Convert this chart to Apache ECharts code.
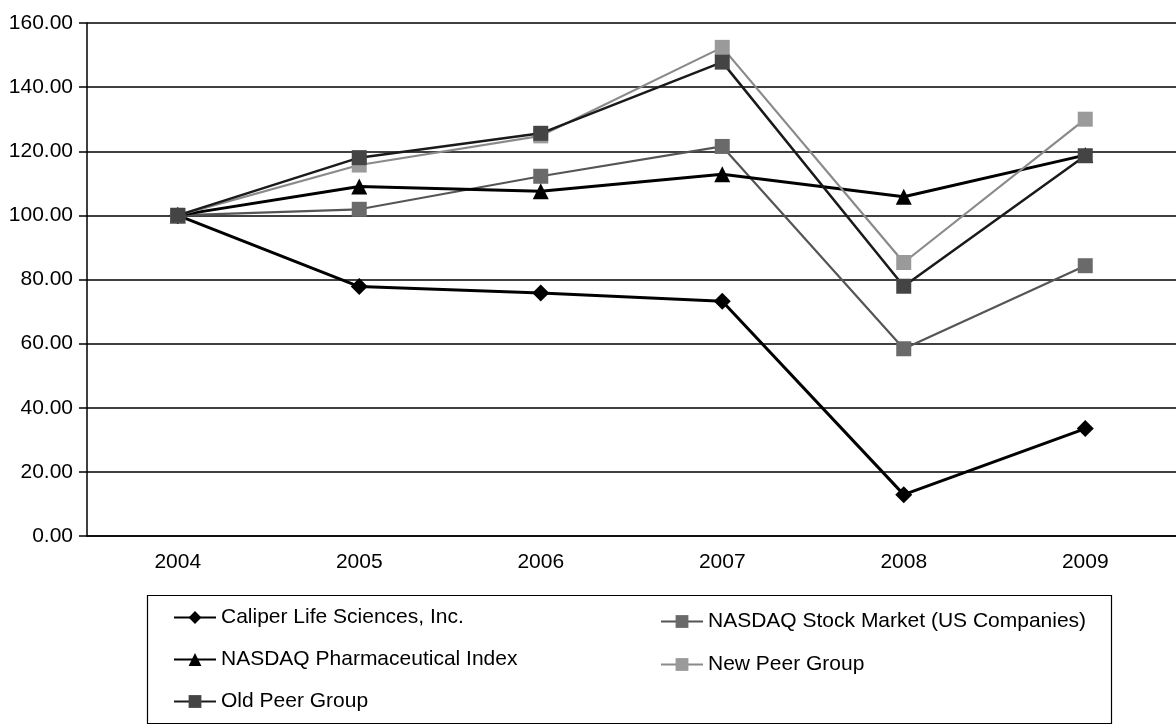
<!DOCTYPE html>
<html>
<head>
<meta charset="utf-8">
<script src="https://cdn.jsdelivr.net/npm/echarts@6/dist/echarts.min.js"></script>
<style>
html,body{margin:0;padding:0;background:#fff;}
#chart{width:1176px;height:728px;}
</style>
</head>
<body>
<div id="chart"></div>
<script>
const years = ['2004', '2005', '2006', '2007', '2008', '2009'];
const caliper = [100, 77.8, 75.8, 73.2, 12.9, 33.5];
const nasdaqStock = [100, 101.9, 112.2, 121.5, 58.4, 84.3];
const nasdaqPharma = [100, 109, 107.5, 112.8, 105.8, 118.8];
const newPeer = [100, 115.7, 124.8, 152.4, 85.3, 130];
const oldPeer = [100, 118, 125.6, 147.8, 77.9, 118.6];

const names = {
  caliper: 'Caliper Life Sciences, Inc.',
  stock: 'NASDAQ Stock Market (US Companies)',
  pharma: 'NASDAQ Pharmaceutical Index',
  newPeer: 'New Peer Group',
  oldPeer: 'Old Peer Group'
};

const FONT = '"Liberation Sans", Arial, sans-serif';
const chart = echarts.init(document.getElementById('chart'), null, {renderer: 'canvas'});

function legendAt(name, left, centerY) {
  return {
    data: [name], left: left, top: centerY - 11, orient: 'horizontal',
    itemWidth: 42, itemHeight: 16, itemGap: 0, padding: 0,
    textStyle: {fontFamily: FONT, fontSize: 21, color: '#000'},
    selectedMode: false
  };
}

chart.setOption({
  backgroundColor: '#fff',
  animation: false,
  grid: {left: 87, top: 23, width: 1098, height: 513, containLabel: false},
  xAxis: {
    type: 'category', data: years, boundaryGap: true,
    axisLine: {lineStyle: {color: '#000', width: 1.5}},
    axisTick: {inside: true, length: 8, alignWithLabel: true, lineStyle: {color: '#000', width: 1.5}},
    axisLabel: {fontFamily: FONT, fontSize: 21, color: '#000', margin: 16},
    splitLine: {show: false}
  },
  yAxis: {
    type: 'value', min: 0, max: 160, interval: 20,
    axisLine: {show: true, lineStyle: {color: '#000', width: 1.5}},
    axisTick: {show: true, length: 8, lineStyle: {color: '#000', width: 1.5}},
    axisLabel: {fontFamily: FONT, fontSize: 21, color: '#000', margin: 14,
      formatter: v => v.toFixed(2)},
    splitLine: {lineStyle: {color: '#000', width: 1.5}}
  },
  legend: [
    legendAt(names.caliper, 173, 618),
    legendAt(names.pharma, 173, 660),
    legendAt(names.oldPeer, 173, 702),
    legendAt(names.stock, 660, 622),
    legendAt(names.newPeer, 660, 665)
  ],
  graphic: [{
    type: 'rect', shape: {x: 147.5, y: 595.5, width: 964, height: 128},
    style: {fill: 'none', stroke: '#000', lineWidth: 1.2}, silent: true
  }],
  series: [
    {name: names.caliper, type: 'line', data: caliper, symbol: 'diamond', symbolSize: 17,
      lineStyle: {color: '#000', width: 3}, itemStyle: {color: '#000'}, z: 2},
    {name: names.stock, type: 'line', data: nasdaqStock, symbol: 'rect', symbolSize: 15,
      lineStyle: {color: '#555', width: 2.2}, itemStyle: {color: '#6a6a6a'}, z: 3},
    {name: names.pharma, type: 'line', data: nasdaqPharma, symbol: 'triangle', symbolSize: 16,
      lineStyle: {color: '#000', width: 3}, itemStyle: {color: '#000'}, z: 4},
    {name: names.newPeer, type: 'line', data: newPeer, symbol: 'rect', symbolSize: 15,
      lineStyle: {color: '#8a8a8a', width: 2.2}, itemStyle: {color: '#9a9a9a'}, z: 5},
    {name: names.oldPeer, type: 'line', data: oldPeer, symbol: 'rect', symbolSize: 15,
      lineStyle: {color: '#1a1a1a', width: 2.5}, itemStyle: {color: '#444'}, z: 6}
  ]
});
</script>
</body>
</html>
